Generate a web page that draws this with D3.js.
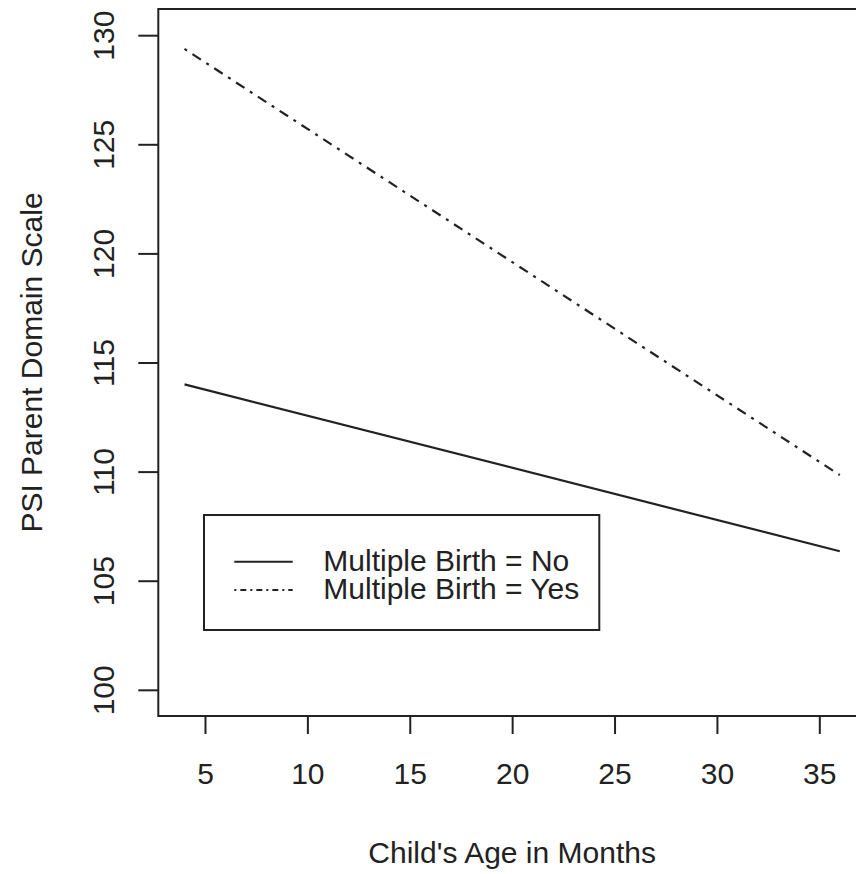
<!DOCTYPE html>
<html>
<head>
<meta charset="utf-8">
<script src="https://cdn.jsdelivr.net/npm/d3@7"></script>
<style>
  html, body { margin: 0; padding: 0; background: #fff; }
  svg { display: block; }
  text { font-family: "Liberation Sans", Arial, Helvetica, sans-serif; fill: #222; }
</style>
</head>
<body>
<script>
// ---- data ----
const ages = [4, 36];
const psiNo = [114.0, 106.35];
const psiYes = [129.37, 109.84];
const seriesLabels = ["Multiple Birth = No", "Multiple Birth = Yes"];
const xTicks = [5, 10, 15, 20, 25, 30, 35];
const yTicks = [100, 105, 110, 115, 120, 125, 130];
const xTitle = "Child's Age in Months";
const yTitle = "PSI Parent Domain Scale";

const W = 856, H = 874;
const plot = { left: 158.3, right: 866, top: 9, bottom: 716 };
const ink = "#222";
const dotdash = "3,6.5,10,6.5";

const svg = d3.select("body").append("svg").attr("width", W).attr("height", H);

const x = d3.scaleLinear().domain([2.72, 37.28]).range([plot.left, plot.right]);
const y = d3.scaleLinear().domain([98.8, 131.2]).range([plot.bottom, plot.top]);

// plot box
svg.append("rect")
  .attr("x", plot.left).attr("y", plot.top)
  .attr("width", plot.right - plot.left).attr("height", plot.bottom - plot.top)
  .attr("fill", "none").attr("stroke", ink).attr("stroke-width", 2);

// x axis
const gx = svg.append("g")
  .attr("transform", `translate(0,${plot.bottom})`)
  .call(d3.axisBottom(x).tickValues(xTicks).tickSize(18).tickSizeOuter(0).tickFormat(d3.format("d")));
gx.select(".domain").remove();
gx.selectAll(".tick line").attr("stroke", ink).attr("stroke-width", 2);
gx.selectAll(".tick text")
  .attr("y", 47).attr("dy", "0.71em")
  .style("font-size", "30px").style("font-family", "'Liberation Sans', Arial, sans-serif")
  .attr("fill", ink);

// y axis
const gy = svg.append("g")
  .attr("transform", `translate(${plot.left},0)`)
  .call(d3.axisLeft(y).tickValues(yTicks).tickSize(20).tickSizeOuter(0).tickFormat(d3.format("d")));
gy.select(".domain").remove();
gy.selectAll(".tick line").attr("stroke", ink).attr("stroke-width", 2);
gy.selectAll(".tick text")
  .attr("x", null).attr("dy", null)
  .attr("text-anchor", "middle")
  .attr("transform", "translate(-44.7,0) rotate(-90)")
  .style("font-size", "30px").style("font-family", "'Liberation Sans', Arial, sans-serif")
  .attr("fill", ink);

// axis titles
svg.append("text")
  .attr("x", (plot.left + plot.right) / 2).attr("y", 863)
  .attr("text-anchor", "middle").style("font-size", "30px")
  .text(xTitle);
svg.append("text")
  .attr("transform", `translate(41.7,${(plot.top + plot.bottom) / 2}) rotate(-90)`)
  .attr("text-anchor", "middle").style("font-size", "30px")
  .text(yTitle);

// lines
const line = d3.line().x(d => x(d[0])).y(d => y(d[1]));
svg.append("path")
  .datum(ages.map((a, i) => [a, psiNo[i]]))
  .attr("d", line).attr("fill", "none").attr("stroke", ink).attr("stroke-width", 2.2);
svg.append("path")
  .datum(ages.map((a, i) => [a, psiYes[i]]))
  .attr("d", line).attr("fill", "none").attr("stroke", ink).attr("stroke-width", 2.2)
  .attr("stroke-dasharray", dotdash);

// legend
const lg = svg.append("g");
lg.append("rect")
  .attr("x", 204).attr("y", 515).attr("width", 599.3 - 204).attr("height", 630 - 515)
  .attr("fill", "#fff").attr("stroke", ink).attr("stroke-width", 2);
const legendRows = [
  { label: seriesLabels[0], dash: null, ly: 561.7, ty: 570.7 },
  { label: seriesLabels[1], dash: "2,4,6,4", ly: 590, ty: 599.3 }
];
legendRows.forEach(r => {
  lg.append("line")
    .attr("x1", 234.3).attr("x2", 292.7).attr("y1", r.ly).attr("y2", r.ly)
    .attr("stroke", ink).attr("stroke-width", 2)
    .attr("stroke-dasharray", r.dash);
  lg.append("text")
    .attr("x", 323.3).attr("y", r.ty)
    .style("font-size", "30px")
    .text(r.label);
});
</script>
</body>
</html>
